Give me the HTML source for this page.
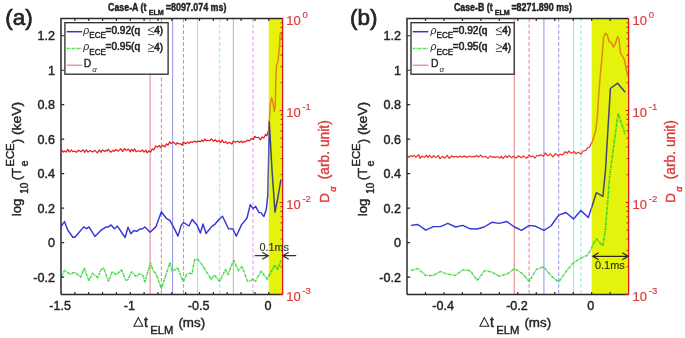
<!DOCTYPE html>
<html><head><meta charset="utf-8"><style>
html,body{margin:0;padding:0;background:#fff;width:685px;height:338px;overflow:hidden}
svg{display:block;filter:blur(0.4px)}
text{font-family:"Liberation Sans",sans-serif}
</style></head><body>
<svg width="685" height="338" viewBox="0 0 685 338">
<rect x="0" y="0" width="685" height="338" fill="#ffffff"/>
<rect x="268.75" y="18.50" width="13.85" height="275.90" fill="#e4f20c"/>
<line x1="150.10" y1="18.50" x2="150.10" y2="294.40" stroke="#e68c92" stroke-width="1.1" />
<line x1="161.40" y1="18.50" x2="161.40" y2="294.40" stroke="#e68c92" stroke-width="1.1" stroke-dasharray="3.7,2.2"/>
<line x1="172.60" y1="18.50" x2="172.60" y2="294.40" stroke="#9c9cea" stroke-width="1.1" />
<line x1="183.50" y1="18.50" x2="183.50" y2="294.40" stroke="#9c9cea" stroke-width="1.1" stroke-dasharray="3.7,2.2"/>
<line x1="197.50" y1="18.50" x2="197.50" y2="294.40" stroke="#92ecec" stroke-width="1.1" />
<line x1="219.70" y1="18.50" x2="219.70" y2="294.40" stroke="#92ecec" stroke-width="1.1" stroke-dasharray="3.7,2.2"/>
<line x1="233.40" y1="18.50" x2="233.40" y2="294.40" stroke="#e99cef" stroke-width="1.1" />
<line x1="253.00" y1="18.50" x2="253.00" y2="294.40" stroke="#e99cef" stroke-width="1.1" stroke-dasharray="3.7,2.2"/>
<clipPath id="cwa"><rect x="0" y="0" width="268.75" height="338"/></clipPath>
<clipPath id="cya"><rect x="268.75" y="0" width="400" height="338"/></clipPath>
<g clip-path="url(#cwa)">
<polyline points="61.5,150.1 63.4,152.0 64.6,150.8 66.0,152.2 67.8,149.2 69.1,152.1 71.4,150.0 72.6,151.7 74.5,151.0 76.3,152.3 78.6,150.2 80.9,151.7 83.3,149.8 84.7,152.5 86.4,149.8 88.0,152.1 90.0,150.4 92.4,152.0 94.9,150.3 97.3,152.9 99.2,150.0 101.2,152.3 102.3,149.8 104.6,151.6 105.9,150.2 107.0,151.1 108.1,149.2 110.6,152.2 113.2,150.3 114.3,151.3 115.9,149.5 118.3,151.2 120.7,148.7 122.6,151.6 124.5,148.6 126.3,150.4 128.4,149.1 130.3,151.9 131.4,149.2 133.3,151.3 134.5,148.8 136.1,151.7 138.2,150.7 140.7,151.6 142.4,149.8 144.0,152.1 145.9,150.1 147.0,152.7 149.2,150.8 150.6,152.2 152.3,148.8 153.8,149.9 155.6,146.0 157.6,147.1 159.3,145.5 160.7,147.6 162.9,145.2 164.9,146.9 166.5,143.8 168.0,145.2 169.7,141.8 171.0,143.6 173.4,142.2 175.9,144.7 177.3,142.7 179.1,144.0 180.7,143.8 182.2,145.2 183.3,141.9 185.7,143.7 187.6,142.3 189.1,143.3 190.9,141.7 192.5,142.4 194.8,140.9 196.2,142.2 198.4,141.1 200.7,141.7 201.8,140.0 203.2,141.3 205.1,139.0 206.2,140.8 207.4,140.4 209.7,140.5 211.5,139.0 213.6,141.4 215.2,139.6 217.0,141.8 218.7,140.4 220.6,142.6 222.2,140.0 223.9,142.7 225.9,141.7 227.4,143.6 229.5,142.2 231.8,144.1 233.4,141.0 235.2,142.2 237.4,141.2 239.5,142.4 241.4,141.1 242.6,142.7 243.8,141.5 245.1,142.1 247.4,140.3 249.7,140.7 251.6,138.5 253.4,139.4 254.7,136.3 256.2,137.5 258.5,137.3 260.5,139.9 262.1,136.9 263.8,138.0 265.6,134.3 266.9,135.9 267.4,133.8 268.7,130.0 269.3,122.3 270.3,103.6 271.6,97.6 272.9,102.3 274.3,111.6 275.3,105.0 275.7,85.0 276.5,65.6 278.1,60.4 279.6,44.9 280.2,33.5 281.7,32.5 282.4,40.0" fill="none" stroke="#e01b1b" stroke-width="1.2" stroke-linejoin="round" />
<polyline points="61.2,226.3 64.5,221.6 67.7,229.9 73.0,237.5 75.4,236.7 83.7,226.9 86.6,228.7 89.0,226.9 94.9,236.4 100.8,230.4 106.2,226.9 108.5,226.9 111.1,224.9 114.4,228.7 117.4,226.1 125.1,237.5 128.0,227.2 130.9,233.7 133.9,230.5 136.8,231.4 139.8,229.0 142.2,229.0 144.9,227.0 150.1,232.2 156.0,226.6 161.4,211.8 165.8,217.8 170.0,220.7 173.5,227.2 178.0,236.1 181.2,225.4 183.6,222.5 188.9,226.0 192.2,219.5 197.1,225.2 200.4,233.1 203.0,224.0 206.0,233.5 211.9,226.4 214.9,224.3 219.6,218.7 222.5,216.3 228.5,228.7 233.0,229.0 236.3,236.2 241.6,224.6 247.0,218.0 250.3,204.7 253.0,208.7 255.6,206.4 259.0,212.6 261.0,212.6 263.9,216.6 266.3,209.3 267.8,195.0 269.3,122.0 272.0,170.0 275.0,212.2 278.0,197.0 280.9,179.6" fill="none" stroke="#3636d6" stroke-width="1.45" stroke-linejoin="round" />
<polyline points="61.4,276.9 64.5,270.4 70.1,274.2 74.8,272.2 80.7,277.2 84.3,268.3 89.0,280.8 92.5,273.3 97.9,277.7 100.8,269.8 103.6,268.0 108.5,281.6 112.1,271.6 116.2,274.9 121.5,269.8 125.7,280.1 128.0,280.1 131.5,271.9 136.2,276.6 139.8,273.7 142.8,275.4 144.9,282.0 150.4,263.0 153.4,271.3 155.8,273.1 161.4,288.5 165.2,277.2 170.0,262.4 172.3,271.3 177.7,267.8 183.2,282.0 186.5,274.9 189.5,273.1 191.9,274.3 194.7,259.5 197.7,259.2 201.8,264.2 211.3,279.6 214.3,274.9 219.6,281.4 225.5,269.5 228.1,274.6 233.6,260.1 238.5,270.7 242.1,266.6 247.4,281.0 250.4,281.0 252.7,279.0 255.5,281.2 261.2,271.0 267.2,279.3 268.9,275.7 274.9,265.1 277.8,269.2 281.0,260.3" fill="none" stroke="#45d845" stroke-width="1.5" stroke-linejoin="round" stroke-dasharray="2.8,0.7,1.0,0.7"/>
</g><g clip-path="url(#cya)">
<polyline points="61.5,150.1 63.4,152.0 64.6,150.8 66.0,152.2 67.8,149.2 69.1,152.1 71.4,150.0 72.6,151.7 74.5,151.0 76.3,152.3 78.6,150.2 80.9,151.7 83.3,149.8 84.7,152.5 86.4,149.8 88.0,152.1 90.0,150.4 92.4,152.0 94.9,150.3 97.3,152.9 99.2,150.0 101.2,152.3 102.3,149.8 104.6,151.6 105.9,150.2 107.0,151.1 108.1,149.2 110.6,152.2 113.2,150.3 114.3,151.3 115.9,149.5 118.3,151.2 120.7,148.7 122.6,151.6 124.5,148.6 126.3,150.4 128.4,149.1 130.3,151.9 131.4,149.2 133.3,151.3 134.5,148.8 136.1,151.7 138.2,150.7 140.7,151.6 142.4,149.8 144.0,152.1 145.9,150.1 147.0,152.7 149.2,150.8 150.6,152.2 152.3,148.8 153.8,149.9 155.6,146.0 157.6,147.1 159.3,145.5 160.7,147.6 162.9,145.2 164.9,146.9 166.5,143.8 168.0,145.2 169.7,141.8 171.0,143.6 173.4,142.2 175.9,144.7 177.3,142.7 179.1,144.0 180.7,143.8 182.2,145.2 183.3,141.9 185.7,143.7 187.6,142.3 189.1,143.3 190.9,141.7 192.5,142.4 194.8,140.9 196.2,142.2 198.4,141.1 200.7,141.7 201.8,140.0 203.2,141.3 205.1,139.0 206.2,140.8 207.4,140.4 209.7,140.5 211.5,139.0 213.6,141.4 215.2,139.6 217.0,141.8 218.7,140.4 220.6,142.6 222.2,140.0 223.9,142.7 225.9,141.7 227.4,143.6 229.5,142.2 231.8,144.1 233.4,141.0 235.2,142.2 237.4,141.2 239.5,142.4 241.4,141.1 242.6,142.7 243.8,141.5 245.1,142.1 247.4,140.3 249.7,140.7 251.6,138.5 253.4,139.4 254.7,136.3 256.2,137.5 258.5,137.3 260.5,139.9 262.1,136.9 263.8,138.0 265.6,134.3 266.9,135.9 267.4,133.8 268.7,130.0 269.3,122.3 270.3,103.6 271.6,97.6 272.9,102.3 274.3,111.6 275.3,105.0 275.7,85.0 276.5,65.6 278.1,60.4 279.6,44.9 280.2,33.5 281.7,32.5 282.4,40.0" fill="none" stroke="#e08a12" stroke-width="1.5" stroke-linejoin="round" />
<polyline points="61.2,226.3 64.5,221.6 67.7,229.9 73.0,237.5 75.4,236.7 83.7,226.9 86.6,228.7 89.0,226.9 94.9,236.4 100.8,230.4 106.2,226.9 108.5,226.9 111.1,224.9 114.4,228.7 117.4,226.1 125.1,237.5 128.0,227.2 130.9,233.7 133.9,230.5 136.8,231.4 139.8,229.0 142.2,229.0 144.9,227.0 150.1,232.2 156.0,226.6 161.4,211.8 165.8,217.8 170.0,220.7 173.5,227.2 178.0,236.1 181.2,225.4 183.6,222.5 188.9,226.0 192.2,219.5 197.1,225.2 200.4,233.1 203.0,224.0 206.0,233.5 211.9,226.4 214.9,224.3 219.6,218.7 222.5,216.3 228.5,228.7 233.0,229.0 236.3,236.2 241.6,224.6 247.0,218.0 250.3,204.7 253.0,208.7 255.6,206.4 259.0,212.6 261.0,212.6 263.9,216.6 266.3,209.3 267.8,195.0 269.3,122.0 272.0,170.0 275.0,212.2 278.0,197.0 280.9,179.6" fill="none" stroke="#3e4876" stroke-width="1.5" stroke-linejoin="round" />
<polyline points="61.4,276.9 64.5,270.4 70.1,274.2 74.8,272.2 80.7,277.2 84.3,268.3 89.0,280.8 92.5,273.3 97.9,277.7 100.8,269.8 103.6,268.0 108.5,281.6 112.1,271.6 116.2,274.9 121.5,269.8 125.7,280.1 128.0,280.1 131.5,271.9 136.2,276.6 139.8,273.7 142.8,275.4 144.9,282.0 150.4,263.0 153.4,271.3 155.8,273.1 161.4,288.5 165.2,277.2 170.0,262.4 172.3,271.3 177.7,267.8 183.2,282.0 186.5,274.9 189.5,273.1 191.9,274.3 194.7,259.5 197.7,259.2 201.8,264.2 211.3,279.6 214.3,274.9 219.6,281.4 225.5,269.5 228.1,274.6 233.6,260.1 238.5,270.7 242.1,266.6 247.4,281.0 250.4,281.0 252.7,279.0 255.5,281.2 261.2,271.0 267.2,279.3 268.9,275.7 274.9,265.1 277.8,269.2 281.0,260.3" fill="none" stroke="#3ad425" stroke-width="1.6" stroke-linejoin="round" stroke-dasharray="2.8,0.7,1.0,0.7"/>
</g>
<path d="M282.60,18.50 L61.00,18.50 L61.00,294.40" fill="none" stroke="#2a2a2a" stroke-width="1.5"/>
<line x1="61.00" y1="294.40" x2="282.60" y2="294.40" stroke="#2a2a2a" stroke-width="1.5"/>
<line x1="282.60" y1="17.90" x2="282.60" y2="295.00" stroke="#e01b1b" stroke-width="1.3"/>
<path d="M74.85,294.40v-2.4M74.85,18.50v2.4M88.70,294.40v-2.4M88.70,18.50v2.4M102.55,294.40v-2.4M102.55,18.50v2.4M116.40,294.40v-2.4M116.40,18.50v2.4M130.25,294.40v-2.4M130.25,18.50v2.4M144.10,294.40v-2.4M144.10,18.50v2.4M157.95,294.40v-2.4M157.95,18.50v2.4M171.80,294.40v-2.4M171.80,18.50v2.4M185.65,294.40v-2.4M185.65,18.50v2.4M199.50,294.40v-2.4M199.50,18.50v2.4M213.35,294.40v-2.4M213.35,18.50v2.4M227.20,294.40v-2.4M227.20,18.50v2.4M241.05,294.40v-2.4M241.05,18.50v2.4M254.90,294.40v-2.4M254.90,18.50v2.4M268.75,294.40v-2.4M268.75,18.50v2.4M61.00,277.16h3.2M61.00,242.67h3.2M61.00,208.18h3.2M61.00,173.69h3.2M61.00,139.21h3.2M61.00,104.72h3.2M61.00,70.23h3.2M61.00,35.74h3.2" stroke="#2a2a2a" stroke-width="1.2" fill="none"/>
<path d="M282.60,110.47h-3.0M282.60,82.78h-2.0M282.60,66.59h-2.0M282.60,55.10h-2.0M282.60,46.18h-2.0M282.60,38.90h-2.0M282.60,32.75h-2.0M282.60,27.41h-2.0M282.60,22.71h-2.0M282.60,202.43h-3.0M282.60,174.75h-2.0M282.60,158.55h-2.0M282.60,147.06h-2.0M282.60,138.15h-2.0M282.60,130.87h-2.0M282.60,124.71h-2.0M282.60,119.38h-2.0M282.60,114.67h-2.0M282.60,294.40h-3.0M282.60,266.72h-2.0M282.60,250.52h-2.0M282.60,239.03h-2.0M282.60,230.12h-2.0M282.60,222.84h-2.0M282.60,216.68h-2.0M282.60,211.35h-2.0M282.60,206.64h-2.0" stroke="#e01b1b" stroke-width="1.1" fill="none"/>
<text x="55.00" y="281.66" font-size="12.6" fill="#242424" text-anchor="end" font-weight="normal" font-family='"Liberation Sans", sans-serif' stroke="#242424" stroke-width="0.42" >-0.2</text>
<text x="55.00" y="247.17" font-size="12.6" fill="#242424" text-anchor="end" font-weight="normal" font-family='"Liberation Sans", sans-serif' stroke="#242424" stroke-width="0.42" >0</text>
<text x="55.00" y="212.68" font-size="12.6" fill="#242424" text-anchor="end" font-weight="normal" font-family='"Liberation Sans", sans-serif' stroke="#242424" stroke-width="0.42" >0.2</text>
<text x="55.00" y="178.19" font-size="12.6" fill="#242424" text-anchor="end" font-weight="normal" font-family='"Liberation Sans", sans-serif' stroke="#242424" stroke-width="0.42" >0.4</text>
<text x="55.00" y="143.71" font-size="12.6" fill="#242424" text-anchor="end" font-weight="normal" font-family='"Liberation Sans", sans-serif' stroke="#242424" stroke-width="0.42" >0.6</text>
<text x="55.00" y="109.22" font-size="12.6" fill="#242424" text-anchor="end" font-weight="normal" font-family='"Liberation Sans", sans-serif' stroke="#242424" stroke-width="0.42" >0.8</text>
<text x="55.00" y="74.73" font-size="12.6" fill="#242424" text-anchor="end" font-weight="normal" font-family='"Liberation Sans", sans-serif' stroke="#242424" stroke-width="0.42" >1</text>
<text x="55.00" y="40.24" font-size="12.6" fill="#242424" text-anchor="end" font-weight="normal" font-family='"Liberation Sans", sans-serif' stroke="#242424" stroke-width="0.42" >1.2</text>
<text x="60.20" y="310.30" font-size="12.6" fill="#242424" text-anchor="middle" font-weight="normal" font-family='"Liberation Sans", sans-serif' stroke="#242424" stroke-width="0.42" >-1.5</text>
<text x="129.45" y="310.30" font-size="12.6" fill="#242424" text-anchor="middle" font-weight="normal" font-family='"Liberation Sans", sans-serif' stroke="#242424" stroke-width="0.42" >-1</text>
<text x="198.70" y="310.30" font-size="12.6" fill="#242424" text-anchor="middle" font-weight="normal" font-family='"Liberation Sans", sans-serif' stroke="#242424" stroke-width="0.42" >-0.5</text>
<text x="267.95" y="310.30" font-size="12.6" fill="#242424" text-anchor="middle" font-weight="normal" font-family='"Liberation Sans", sans-serif' stroke="#242424" stroke-width="0.42" >0</text>
<text x="286.20" y="25.30" font-size="13" fill="#de3a3a" text-anchor="start" font-weight="normal" font-family='"Liberation Sans", sans-serif' stroke="#de3a3a" stroke-width="0.2" >10</text>
<text x="302.40" y="18.10" font-size="9.6" fill="#de3a3a" text-anchor="start" font-weight="normal" font-family='"Liberation Sans", sans-serif' stroke="#de3a3a" stroke-width="0.15" >0</text>
<text x="286.20" y="117.27" font-size="13" fill="#de3a3a" text-anchor="start" font-weight="normal" font-family='"Liberation Sans", sans-serif' stroke="#de3a3a" stroke-width="0.2" >10</text>
<text x="302.40" y="110.07" font-size="9.6" fill="#de3a3a" text-anchor="start" font-weight="normal" font-family='"Liberation Sans", sans-serif' stroke="#de3a3a" stroke-width="0.15" >-1</text>
<text x="286.20" y="209.23" font-size="13" fill="#de3a3a" text-anchor="start" font-weight="normal" font-family='"Liberation Sans", sans-serif' stroke="#de3a3a" stroke-width="0.2" >10</text>
<text x="302.40" y="202.03" font-size="9.6" fill="#de3a3a" text-anchor="start" font-weight="normal" font-family='"Liberation Sans", sans-serif' stroke="#de3a3a" stroke-width="0.15" >-2</text>
<text x="286.20" y="301.20" font-size="13" fill="#de3a3a" text-anchor="start" font-weight="normal" font-family='"Liberation Sans", sans-serif' stroke="#de3a3a" stroke-width="0.2" >10</text>
<text x="302.40" y="294.00" font-size="9.6" fill="#de3a3a" text-anchor="start" font-weight="normal" font-family='"Liberation Sans", sans-serif' stroke="#de3a3a" stroke-width="0.15" >-3</text>
<rect x="591.67" y="18.50" width="36.93" height="275.90" fill="#e4f20c"/>
<line x1="514.30" y1="18.50" x2="514.30" y2="294.40" stroke="#e68c92" stroke-width="1.1" />
<line x1="529.10" y1="18.50" x2="529.10" y2="294.40" stroke="#e68c92" stroke-width="1.1" stroke-dasharray="3.7,2.2"/>
<line x1="543.90" y1="18.50" x2="543.90" y2="294.40" stroke="#9c9cea" stroke-width="1.1" />
<line x1="558.70" y1="18.50" x2="558.70" y2="294.40" stroke="#9c9cea" stroke-width="1.1" stroke-dasharray="3.7,2.2"/>
<line x1="573.60" y1="18.50" x2="573.60" y2="294.40" stroke="#92ecec" stroke-width="1.1" />
<line x1="580.90" y1="18.50" x2="580.90" y2="294.40" stroke="#92ecec" stroke-width="1.1" stroke-dasharray="3.7,2.2"/>
<clipPath id="cwb"><rect x="0" y="0" width="591.67" height="338"/></clipPath>
<clipPath id="cyb"><rect x="591.67" y="0" width="400" height="338"/></clipPath>
<g clip-path="url(#cwb)">
<polyline points="407.5,155.6 408.9,157.4 410.8,155.6 412.7,156.6 414.2,155.4 415.8,157.2 418.6,154.6 420.0,158.3 421.7,156.1 424.4,157.3 426.6,155.2 428.0,157.4 429.6,155.3 431.8,157.8 433.6,155.5 435.8,157.6 438.5,155.5 440.0,158.8 442.5,156.3 444.9,158.2 447.1,155.3 449.4,158.4 451.4,155.9 453.8,157.1 456.2,156.3 458.0,157.5 460.3,156.1 461.8,157.1 464.4,156.1 467.1,157.4 469.1,156.0 471.8,156.8 473.8,156.4 475.3,156.6 476.9,155.5 478.6,157.1 480.6,155.1 483.0,157.3 485.3,156.3 487.9,158.4 490.5,155.9 492.8,157.4 494.2,156.5 495.5,157.6 497.0,156.4 499.8,158.1 501.3,156.1 502.7,158.5 505.7,155.8 507.1,157.6 508.8,155.6 511.7,157.8 513.2,156.2 516.1,158.1 518.5,155.8 521.1,157.7 523.6,155.9 526.5,158.4 529.2,155.1 531.3,156.9 532.6,155.9 535.0,158.0 537.0,155.3 538.9,156.0 540.5,154.6 543.3,156.2 545.4,153.0 547.8,155.9 550.3,153.9 552.9,156.8 555.5,153.6 558.4,156.0 559.9,154.1 562.5,155.0 565.2,151.7 567.4,153.3 568.6,151.1 571.5,153.2 574.2,151.6 576.0,153.8 578.2,152.2 581.0,154.1 583.0,151.0 585.8,150.4 588.0,147.7 589.5,147.1 592.1,141.5 592.2,142.5 594.2,135.0 595.4,132.4 597.1,119.4 598.7,95.0 600.6,71.0 601.8,60.0 603.6,37.8 605.4,33.3 607.2,34.8 609.2,41.9 611.1,42.5 613.7,47.0 615.4,43.7 617.5,36.6 619.0,38.9 620.5,53.1 622.5,56.1 624.6,60.3 626.0,68.3 628.0,76.3" fill="none" stroke="#e83030" stroke-width="1.2" stroke-linejoin="round" />
<polyline points="410.9,225.4 417.8,224.5 425.7,230.2 433.4,226.6 440.5,226.6 447.8,223.4 455.7,227.0 462.8,225.4 470.1,228.8 477.1,229.0 484.2,227.0 492.2,222.2 499.3,223.4 506.9,221.5 514.4,227.0 521.5,230.4 529.2,225.4 535.7,226.3 543.9,230.3 551.0,226.0 558.7,215.1 566.0,212.5 573.5,218.9 580.9,210.6 588.3,217.5 592.0,206.5 596.3,192.7 602.9,196.3 605.5,170.0 610.4,88.5 617.6,83.2 625.2,92.2" fill="none" stroke="#3636d6" stroke-width="1.45" stroke-linejoin="round" />
<polyline points="410.9,270.4 417.8,268.6 425.7,275.4 433.4,275.4 440.5,271.5 447.8,274.3 455.7,275.4 462.8,269.9 469.9,270.4 477.3,280.5 484.8,270.4 491.9,272.2 499.6,276.3 507.6,273.7 514.4,268.7 521.8,273.1 529.2,281.4 536.3,269.5 543.5,266.8 551.6,276.3 558.7,282.0 566.4,271.0 574.0,262.1 581.2,258.2 587.4,255.2 590.6,250.1 593.0,244.2 596.5,238.9 602.8,246.0 605.4,230.0 609.8,175.0 618.1,113.3 625.2,134.2" fill="none" stroke="#45d845" stroke-width="1.5" stroke-linejoin="round" stroke-dasharray="2.8,0.7,1.0,0.7"/>
</g><g clip-path="url(#cyb)">
<polyline points="407.5,155.6 408.9,157.4 410.8,155.6 412.7,156.6 414.2,155.4 415.8,157.2 418.6,154.6 420.0,158.3 421.7,156.1 424.4,157.3 426.6,155.2 428.0,157.4 429.6,155.3 431.8,157.8 433.6,155.5 435.8,157.6 438.5,155.5 440.0,158.8 442.5,156.3 444.9,158.2 447.1,155.3 449.4,158.4 451.4,155.9 453.8,157.1 456.2,156.3 458.0,157.5 460.3,156.1 461.8,157.1 464.4,156.1 467.1,157.4 469.1,156.0 471.8,156.8 473.8,156.4 475.3,156.6 476.9,155.5 478.6,157.1 480.6,155.1 483.0,157.3 485.3,156.3 487.9,158.4 490.5,155.9 492.8,157.4 494.2,156.5 495.5,157.6 497.0,156.4 499.8,158.1 501.3,156.1 502.7,158.5 505.7,155.8 507.1,157.6 508.8,155.6 511.7,157.8 513.2,156.2 516.1,158.1 518.5,155.8 521.1,157.7 523.6,155.9 526.5,158.4 529.2,155.1 531.3,156.9 532.6,155.9 535.0,158.0 537.0,155.3 538.9,156.0 540.5,154.6 543.3,156.2 545.4,153.0 547.8,155.9 550.3,153.9 552.9,156.8 555.5,153.6 558.4,156.0 559.9,154.1 562.5,155.0 565.2,151.7 567.4,153.3 568.6,151.1 571.5,153.2 574.2,151.6 576.0,153.8 578.2,152.2 581.0,154.1 583.0,151.0 585.8,150.4 588.0,147.7 589.5,147.1 592.1,141.5 592.2,142.5 594.2,135.0 595.4,132.4 597.1,119.4 598.7,95.0 600.6,71.0 601.8,60.0 603.6,37.8 605.4,33.3 607.2,34.8 609.2,41.9 611.1,42.5 613.7,47.0 615.4,43.7 617.5,36.6 619.0,38.9 620.5,53.1 622.5,56.1 624.6,60.3 626.0,68.3 628.0,76.3" fill="none" stroke="#e08a12" stroke-width="1.5" stroke-linejoin="round" />
<polyline points="410.9,225.4 417.8,224.5 425.7,230.2 433.4,226.6 440.5,226.6 447.8,223.4 455.7,227.0 462.8,225.4 470.1,228.8 477.1,229.0 484.2,227.0 492.2,222.2 499.3,223.4 506.9,221.5 514.4,227.0 521.5,230.4 529.2,225.4 535.7,226.3 543.9,230.3 551.0,226.0 558.7,215.1 566.0,212.5 573.5,218.9 580.9,210.6 588.3,217.5 592.0,206.5 596.3,192.7 602.9,196.3 605.5,170.0 610.4,88.5 617.6,83.2 625.2,92.2" fill="none" stroke="#3e4876" stroke-width="1.5" stroke-linejoin="round" />
<polyline points="410.9,270.4 417.8,268.6 425.7,275.4 433.4,275.4 440.5,271.5 447.8,274.3 455.7,275.4 462.8,269.9 469.9,270.4 477.3,280.5 484.8,270.4 491.9,272.2 499.6,276.3 507.6,273.7 514.4,268.7 521.8,273.1 529.2,281.4 536.3,269.5 543.5,266.8 551.6,276.3 558.7,282.0 566.4,271.0 574.0,262.1 581.2,258.2 587.4,255.2 590.6,250.1 593.0,244.2 596.5,238.9 602.8,246.0 605.4,230.0 609.8,175.0 618.1,113.3 625.2,134.2" fill="none" stroke="#3ad425" stroke-width="1.6" stroke-linejoin="round" stroke-dasharray="2.8,0.7,1.0,0.7"/>
</g>
<path d="M628.60,18.50 L407.00,18.50 L407.00,294.40" fill="none" stroke="#2a2a2a" stroke-width="1.5"/>
<line x1="407.00" y1="294.40" x2="628.60" y2="294.40" stroke="#2a2a2a" stroke-width="1.5"/>
<line x1="628.60" y1="17.90" x2="628.60" y2="295.00" stroke="#e01b1b" stroke-width="1.3"/>
<path d="M425.47,294.40v-2.4M425.47,18.50v2.4M443.93,294.40v-2.4M443.93,18.50v2.4M462.40,294.40v-2.4M462.40,18.50v2.4M480.87,294.40v-2.4M480.87,18.50v2.4M499.33,294.40v-2.4M499.33,18.50v2.4M517.80,294.40v-2.4M517.80,18.50v2.4M536.27,294.40v-2.4M536.27,18.50v2.4M554.73,294.40v-2.4M554.73,18.50v2.4M573.20,294.40v-2.4M573.20,18.50v2.4M591.67,294.40v-2.4M591.67,18.50v2.4M610.13,294.40v-2.4M610.13,18.50v2.4M407.00,277.16h3.2M407.00,242.67h3.2M407.00,208.18h3.2M407.00,173.69h3.2M407.00,139.21h3.2M407.00,104.72h3.2M407.00,70.23h3.2M407.00,35.74h3.2" stroke="#2a2a2a" stroke-width="1.2" fill="none"/>
<path d="M628.60,110.47h-3.0M628.60,82.78h-2.0M628.60,66.59h-2.0M628.60,55.10h-2.0M628.60,46.18h-2.0M628.60,38.90h-2.0M628.60,32.75h-2.0M628.60,27.41h-2.0M628.60,22.71h-2.0M628.60,202.43h-3.0M628.60,174.75h-2.0M628.60,158.55h-2.0M628.60,147.06h-2.0M628.60,138.15h-2.0M628.60,130.87h-2.0M628.60,124.71h-2.0M628.60,119.38h-2.0M628.60,114.67h-2.0M628.60,294.40h-3.0M628.60,266.72h-2.0M628.60,250.52h-2.0M628.60,239.03h-2.0M628.60,230.12h-2.0M628.60,222.84h-2.0M628.60,216.68h-2.0M628.60,211.35h-2.0M628.60,206.64h-2.0" stroke="#e01b1b" stroke-width="1.1" fill="none"/>
<text x="401.00" y="281.66" font-size="12.6" fill="#242424" text-anchor="end" font-weight="normal" font-family='"Liberation Sans", sans-serif' stroke="#242424" stroke-width="0.42" >-0.2</text>
<text x="401.00" y="247.17" font-size="12.6" fill="#242424" text-anchor="end" font-weight="normal" font-family='"Liberation Sans", sans-serif' stroke="#242424" stroke-width="0.42" >0</text>
<text x="401.00" y="212.68" font-size="12.6" fill="#242424" text-anchor="end" font-weight="normal" font-family='"Liberation Sans", sans-serif' stroke="#242424" stroke-width="0.42" >0.2</text>
<text x="401.00" y="178.19" font-size="12.6" fill="#242424" text-anchor="end" font-weight="normal" font-family='"Liberation Sans", sans-serif' stroke="#242424" stroke-width="0.42" >0.4</text>
<text x="401.00" y="143.71" font-size="12.6" fill="#242424" text-anchor="end" font-weight="normal" font-family='"Liberation Sans", sans-serif' stroke="#242424" stroke-width="0.42" >0.6</text>
<text x="401.00" y="109.22" font-size="12.6" fill="#242424" text-anchor="end" font-weight="normal" font-family='"Liberation Sans", sans-serif' stroke="#242424" stroke-width="0.42" >0.8</text>
<text x="401.00" y="74.73" font-size="12.6" fill="#242424" text-anchor="end" font-weight="normal" font-family='"Liberation Sans", sans-serif' stroke="#242424" stroke-width="0.42" >1</text>
<text x="401.00" y="40.24" font-size="12.6" fill="#242424" text-anchor="end" font-weight="normal" font-family='"Liberation Sans", sans-serif' stroke="#242424" stroke-width="0.42" >1.2</text>
<text x="443.13" y="310.30" font-size="12.6" fill="#242424" text-anchor="middle" font-weight="normal" font-family='"Liberation Sans", sans-serif' stroke="#242424" stroke-width="0.42" >-0.4</text>
<text x="517.00" y="310.30" font-size="12.6" fill="#242424" text-anchor="middle" font-weight="normal" font-family='"Liberation Sans", sans-serif' stroke="#242424" stroke-width="0.42" >-0.2</text>
<text x="590.87" y="310.30" font-size="12.6" fill="#242424" text-anchor="middle" font-weight="normal" font-family='"Liberation Sans", sans-serif' stroke="#242424" stroke-width="0.42" >0</text>
<text x="632.60" y="25.30" font-size="13" fill="#de3a3a" text-anchor="start" font-weight="normal" font-family='"Liberation Sans", sans-serif' stroke="#de3a3a" stroke-width="0.2" >10</text>
<text x="648.80" y="18.10" font-size="9.6" fill="#de3a3a" text-anchor="start" font-weight="normal" font-family='"Liberation Sans", sans-serif' stroke="#de3a3a" stroke-width="0.15" >0</text>
<text x="632.60" y="117.27" font-size="13" fill="#de3a3a" text-anchor="start" font-weight="normal" font-family='"Liberation Sans", sans-serif' stroke="#de3a3a" stroke-width="0.2" >10</text>
<text x="648.80" y="110.07" font-size="9.6" fill="#de3a3a" text-anchor="start" font-weight="normal" font-family='"Liberation Sans", sans-serif' stroke="#de3a3a" stroke-width="0.15" >-1</text>
<text x="632.60" y="209.23" font-size="13" fill="#de3a3a" text-anchor="start" font-weight="normal" font-family='"Liberation Sans", sans-serif' stroke="#de3a3a" stroke-width="0.2" >10</text>
<text x="648.80" y="202.03" font-size="9.6" fill="#de3a3a" text-anchor="start" font-weight="normal" font-family='"Liberation Sans", sans-serif' stroke="#de3a3a" stroke-width="0.15" >-2</text>
<text x="632.60" y="301.20" font-size="13" fill="#de3a3a" text-anchor="start" font-weight="normal" font-family='"Liberation Sans", sans-serif' stroke="#de3a3a" stroke-width="0.2" >10</text>
<text x="648.80" y="294.00" font-size="9.6" fill="#de3a3a" text-anchor="start" font-weight="normal" font-family='"Liberation Sans", sans-serif' stroke="#de3a3a" stroke-width="0.15" >-3</text>
<text x="5.20" y="25.40" font-size="22.5" fill="#242424" text-anchor="start" font-weight="normal" font-family='"Liberation Sans", sans-serif' stroke="#242424" stroke-width="0.7" >(a)</text>
<path d="M133.90,326.3L138.30,317.6L142.80,326.3Z" fill="none" stroke="#242424" stroke-width="1.05" stroke-linejoin="miter"/>
<text x="143.90" y="326.80" font-size="13.8" fill="#242424" text-anchor="start" font-weight="normal" font-family='"Liberation Sans", sans-serif' stroke="#242424" stroke-width="0.42" >t</text>
<text x="150.30" y="333.70" font-size="11.3" fill="#242424" text-anchor="start" font-weight="normal" font-family='"Liberation Sans", sans-serif' stroke="#242424" stroke-width="0.42" >ELM</text>
<text x="178.40" y="326.80" font-size="13.4" fill="#242424" text-anchor="start" font-weight="normal" font-family='"Liberation Sans", sans-serif' stroke="#242424" stroke-width="0.42" >(ms)</text>
<g transform="translate(20.70,216.3) rotate(-90)">
<text x="0.00" y="0.00" font-size="13.2" fill="#242424" text-anchor="start" font-weight="normal" font-family='"Liberation Sans", sans-serif' stroke="#242424" stroke-width="0.42" >log</text>
<text x="22.60" y="7.10" font-size="10" fill="#242424" text-anchor="start" font-weight="normal" font-family='"Liberation Sans", sans-serif' stroke="#242424" stroke-width="0.42" >10</text>
<text x="36.00" y="0.00" font-size="13.2" fill="#242424" text-anchor="start" font-weight="normal" font-family='"Liberation Sans", sans-serif' stroke="#242424" stroke-width="0.42" >(T</text>
<text x="49.80" y="7.00" font-size="11" fill="#242424" text-anchor="start" font-weight="normal" font-family='"Liberation Sans", sans-serif' stroke="#242424" stroke-width="0.42" >e</text>
<text x="49.60" y="-7.10" font-size="10.2" fill="#242424" text-anchor="start" font-weight="normal" font-family='"Liberation Sans", sans-serif' stroke="#242424" stroke-width="0.42" textLength="23.4" lengthAdjust="spacingAndGlyphs">ECE</text>
<text x="73.00" y="0.00" font-size="13.2" fill="#242424" text-anchor="start" font-weight="normal" font-family='"Liberation Sans", sans-serif' stroke="#242424" stroke-width="0.42" >)</text>
<text x="81.20" y="0.00" font-size="13.2" fill="#242424" text-anchor="start" font-weight="normal" font-family='"Liberation Sans", sans-serif' stroke="#242424" stroke-width="0.42" textLength="33.4" lengthAdjust="spacingAndGlyphs">(keV)</text>
</g>
<g transform="translate(328.70,202.8) rotate(-90)" fill="#de3a3a">
<text x="0.00" y="0.00" font-size="13.5" fill="#de3a3a" text-anchor="start" font-weight="normal" font-family='"Liberation Sans", sans-serif' stroke="#de3a3a" stroke-width="0.42" >D</text>
<text x="11.00" y="7.20" font-size="9" fill="#de3a3a" text-anchor="start" font-weight="normal" font-family='"Liberation Serif", serif' stroke="#de3a3a" stroke-width="0.42" font-style="italic">&#945;</text>
<text x="23.50" y="0.00" font-size="13.8" fill="#de3a3a" text-anchor="start" font-weight="normal" font-family='"Liberation Sans", sans-serif' stroke="#de3a3a" stroke-width="0.42" >(arb. unit)</text>
</g>
<rect x="64.90" y="22.7" width="103.2" height="51.5" fill="#ffffff" stroke="#2a2a2a" stroke-width="1.3"/>
<line x1="66.70" y1="31.70" x2="82.20" y2="31.70" stroke="#3434d0" stroke-width="1.5" />
<text x="83.20" y="33.50" font-size="10.5" fill="#242424" text-anchor="start" font-weight="normal" font-family='"Liberation Serif", serif' font-style="italic">&#961;</text>
<text x="89.30" y="37.90" font-size="8.4" fill="#242424" text-anchor="start" font-weight="normal" font-family='"Liberation Sans", sans-serif' stroke="#242424" stroke-width="0.42" textLength="16.6" lengthAdjust="spacingAndGlyphs">ECE</text>
<text x="105.50" y="33.50" font-size="10" fill="#242424" text-anchor="start" font-weight="normal" font-family='"Liberation Sans", sans-serif' stroke="#242424" stroke-width="0.55" textLength="34.6" lengthAdjust="spacingAndGlyphs">=0.92(q</text>
<path d="M154.10,27.00L148.00,29.80L154.10,32.60M148.00,34.60H154.10" fill="none" stroke="#242424" stroke-width="0.8"/>
<text x="154.30" y="33.90" font-size="10" fill="#242424" text-anchor="start" font-weight="normal" font-family='"Liberation Sans", sans-serif' stroke="#242424" stroke-width="0.55" >4)</text>
<line x1="66.70" y1="48.60" x2="82.20" y2="48.60" stroke="#4cd84c" stroke-width="1.5" stroke-dasharray="2.6,0.8,1.0,0.8"/>
<text x="83.20" y="50.40" font-size="10.5" fill="#242424" text-anchor="start" font-weight="normal" font-family='"Liberation Serif", serif' font-style="italic">&#961;</text>
<text x="89.30" y="54.80" font-size="8.4" fill="#242424" text-anchor="start" font-weight="normal" font-family='"Liberation Sans", sans-serif' stroke="#242424" stroke-width="0.42" textLength="16.6" lengthAdjust="spacingAndGlyphs">ECE</text>
<text x="105.50" y="50.40" font-size="10" fill="#242424" text-anchor="start" font-weight="normal" font-family='"Liberation Sans", sans-serif' stroke="#242424" stroke-width="0.55" textLength="34.6" lengthAdjust="spacingAndGlyphs">=0.95(q</text>
<path d="M148.00,43.90L154.10,46.70L148.00,49.50M148.00,51.50H154.10" fill="none" stroke="#242424" stroke-width="0.8"/>
<text x="154.30" y="50.80" font-size="10" fill="#242424" text-anchor="start" font-weight="normal" font-family='"Liberation Sans", sans-serif' stroke="#242424" stroke-width="0.55" >4)</text>
<line x1="66.70" y1="65.20" x2="82.20" y2="65.20" stroke="#e88a8a" stroke-width="1.3"/>
<text x="83.70" y="67.30" font-size="10.4" fill="#242424" text-anchor="start" font-weight="normal" font-family='"Liberation Sans", sans-serif' stroke="#242424" stroke-width="0.35" >D</text>
<text x="92.20" y="71.90" font-size="8" fill="#242424" text-anchor="start" font-weight="normal" font-family='"Liberation Serif", serif' font-style="italic">&#945;</text>
<text x="350.10" y="25.40" font-size="22.5" fill="#242424" text-anchor="start" font-weight="normal" font-family='"Liberation Sans", sans-serif' stroke="#242424" stroke-width="0.7" >(b)</text>
<path d="M479.90,326.3L484.30,317.6L488.80,326.3Z" fill="none" stroke="#242424" stroke-width="1.05" stroke-linejoin="miter"/>
<text x="489.90" y="326.80" font-size="13.8" fill="#242424" text-anchor="start" font-weight="normal" font-family='"Liberation Sans", sans-serif' stroke="#242424" stroke-width="0.42" >t</text>
<text x="496.30" y="333.70" font-size="11.3" fill="#242424" text-anchor="start" font-weight="normal" font-family='"Liberation Sans", sans-serif' stroke="#242424" stroke-width="0.42" >ELM</text>
<text x="524.40" y="326.80" font-size="13.4" fill="#242424" text-anchor="start" font-weight="normal" font-family='"Liberation Sans", sans-serif' stroke="#242424" stroke-width="0.42" >(ms)</text>
<g transform="translate(366.70,216.3) rotate(-90)">
<text x="0.00" y="0.00" font-size="13.2" fill="#242424" text-anchor="start" font-weight="normal" font-family='"Liberation Sans", sans-serif' stroke="#242424" stroke-width="0.42" >log</text>
<text x="22.60" y="7.10" font-size="10" fill="#242424" text-anchor="start" font-weight="normal" font-family='"Liberation Sans", sans-serif' stroke="#242424" stroke-width="0.42" >10</text>
<text x="36.00" y="0.00" font-size="13.2" fill="#242424" text-anchor="start" font-weight="normal" font-family='"Liberation Sans", sans-serif' stroke="#242424" stroke-width="0.42" >(T</text>
<text x="49.80" y="7.00" font-size="11" fill="#242424" text-anchor="start" font-weight="normal" font-family='"Liberation Sans", sans-serif' stroke="#242424" stroke-width="0.42" >e</text>
<text x="49.60" y="-7.10" font-size="10.2" fill="#242424" text-anchor="start" font-weight="normal" font-family='"Liberation Sans", sans-serif' stroke="#242424" stroke-width="0.42" textLength="23.4" lengthAdjust="spacingAndGlyphs">ECE</text>
<text x="73.00" y="0.00" font-size="13.2" fill="#242424" text-anchor="start" font-weight="normal" font-family='"Liberation Sans", sans-serif' stroke="#242424" stroke-width="0.42" >)</text>
<text x="81.20" y="0.00" font-size="13.2" fill="#242424" text-anchor="start" font-weight="normal" font-family='"Liberation Sans", sans-serif' stroke="#242424" stroke-width="0.42" textLength="33.4" lengthAdjust="spacingAndGlyphs">(keV)</text>
</g>
<g transform="translate(674.70,202.8) rotate(-90)" fill="#de3a3a">
<text x="0.00" y="0.00" font-size="13.5" fill="#de3a3a" text-anchor="start" font-weight="normal" font-family='"Liberation Sans", sans-serif' stroke="#de3a3a" stroke-width="0.42" >D</text>
<text x="11.00" y="7.20" font-size="9" fill="#de3a3a" text-anchor="start" font-weight="normal" font-family='"Liberation Serif", serif' stroke="#de3a3a" stroke-width="0.42" font-style="italic">&#945;</text>
<text x="23.50" y="0.00" font-size="13.8" fill="#de3a3a" text-anchor="start" font-weight="normal" font-family='"Liberation Sans", sans-serif' stroke="#de3a3a" stroke-width="0.42" >(arb. unit)</text>
</g>
<rect x="411.00" y="22.7" width="103.2" height="51.5" fill="#ffffff" stroke="#2a2a2a" stroke-width="1.3"/>
<line x1="412.80" y1="31.70" x2="428.30" y2="31.70" stroke="#3434d0" stroke-width="1.5" />
<text x="430.50" y="33.50" font-size="10.5" fill="#242424" text-anchor="start" font-weight="normal" font-family='"Liberation Serif", serif' font-style="italic">&#961;</text>
<text x="436.60" y="37.90" font-size="8.4" fill="#242424" text-anchor="start" font-weight="normal" font-family='"Liberation Sans", sans-serif' stroke="#242424" stroke-width="0.42" textLength="16.6" lengthAdjust="spacingAndGlyphs">ECE</text>
<text x="452.80" y="33.50" font-size="10" fill="#242424" text-anchor="start" font-weight="normal" font-family='"Liberation Sans", sans-serif' stroke="#242424" stroke-width="0.55" textLength="34.6" lengthAdjust="spacingAndGlyphs">=0.92(q</text>
<path d="M502.00,27.00L495.90,29.80L502.00,32.60M495.90,34.60H502.00" fill="none" stroke="#242424" stroke-width="0.8"/>
<text x="502.20" y="33.90" font-size="10" fill="#242424" text-anchor="start" font-weight="normal" font-family='"Liberation Sans", sans-serif' stroke="#242424" stroke-width="0.55" >4)</text>
<line x1="412.80" y1="48.60" x2="428.30" y2="48.60" stroke="#4cd84c" stroke-width="1.5" stroke-dasharray="2.6,0.8,1.0,0.8"/>
<text x="430.50" y="50.40" font-size="10.5" fill="#242424" text-anchor="start" font-weight="normal" font-family='"Liberation Serif", serif' font-style="italic">&#961;</text>
<text x="436.60" y="54.80" font-size="8.4" fill="#242424" text-anchor="start" font-weight="normal" font-family='"Liberation Sans", sans-serif' stroke="#242424" stroke-width="0.42" textLength="16.6" lengthAdjust="spacingAndGlyphs">ECE</text>
<text x="452.80" y="50.40" font-size="10" fill="#242424" text-anchor="start" font-weight="normal" font-family='"Liberation Sans", sans-serif' stroke="#242424" stroke-width="0.55" textLength="34.6" lengthAdjust="spacingAndGlyphs">=0.95(q</text>
<path d="M495.90,43.90L502.00,46.70L495.90,49.50M495.90,51.50H502.00" fill="none" stroke="#242424" stroke-width="0.8"/>
<text x="502.20" y="50.80" font-size="10" fill="#242424" text-anchor="start" font-weight="normal" font-family='"Liberation Sans", sans-serif' stroke="#242424" stroke-width="0.55" >4)</text>
<line x1="412.80" y1="65.20" x2="428.30" y2="65.20" stroke="#e88a8a" stroke-width="1.3"/>
<text x="431.00" y="67.30" font-size="10.4" fill="#242424" text-anchor="start" font-weight="normal" font-family='"Liberation Sans", sans-serif' stroke="#242424" stroke-width="0.35" >D</text>
<text x="439.50" y="71.90" font-size="8" fill="#242424" text-anchor="start" font-weight="normal" font-family='"Liberation Serif", serif' font-style="italic">&#945;</text>
<text x="108.10" y="10.90" font-size="10.2" fill="#242424" text-anchor="start" font-weight="bold" font-family='"Liberation Sans", sans-serif' stroke="#242424" stroke-width="0.42" textLength="38.3" lengthAdjust="spacingAndGlyphs">Case-A (t</text>
<text x="148.80" y="14.50" font-size="7.4" fill="#242424" text-anchor="start" font-weight="bold" font-family='"Liberation Sans", sans-serif' stroke="#242424" stroke-width="0.42" textLength="15.0" lengthAdjust="spacingAndGlyphs">ELM</text>
<text x="165.80" y="10.90" font-size="10.2" fill="#242424" text-anchor="start" font-weight="bold" font-family='"Liberation Sans", sans-serif' stroke="#242424" stroke-width="0.42" textLength="60.6" lengthAdjust="spacingAndGlyphs">=8097.074 ms)</text>
<text x="453.90" y="10.90" font-size="10.2" fill="#242424" text-anchor="start" font-weight="bold" font-family='"Liberation Sans", sans-serif' stroke="#242424" stroke-width="0.42" textLength="38.8" lengthAdjust="spacingAndGlyphs">Case-B (t</text>
<text x="494.70" y="14.50" font-size="7.4" fill="#242424" text-anchor="start" font-weight="bold" font-family='"Liberation Sans", sans-serif' stroke="#242424" stroke-width="0.42" textLength="15.0" lengthAdjust="spacingAndGlyphs">ELM</text>
<text x="511.40" y="10.90" font-size="10.2" fill="#242424" text-anchor="start" font-weight="bold" font-family='"Liberation Sans", sans-serif' stroke="#242424" stroke-width="0.42" textLength="60.6" lengthAdjust="spacingAndGlyphs">=8271.890 ms)</text>
<path d="M254.8,255.7H268.2M262.30,252.20L268.20,255.70L262.30,259.20 M296.2,255.7H282.8M288.70,252.20L282.80,255.70L288.70,259.20" fill="none" stroke="#333333" stroke-width="1.3"/>
<text x="259.40" y="251.00" font-size="10.2" fill="#333333" text-anchor="start" font-weight="normal" font-family='"Liberation Sans", sans-serif' stroke="#333333" stroke-width="0.15" textLength="29.6" lengthAdjust="spacingAndGlyphs">0.1ms</text>
<path d="M592.8,256.3H628.2M598.70,252.80L592.80,256.30L598.70,259.80M622.30,252.80L628.20,256.30L622.30,259.80" fill="none" stroke="#2a2a10" stroke-width="1.3"/>
<text x="595.00" y="268.60" font-size="10.2" fill="#2a2a10" text-anchor="start" font-weight="normal" font-family='"Liberation Sans", sans-serif' stroke="#2a2a10" stroke-width="0.1" textLength="29.8" lengthAdjust="spacingAndGlyphs">0.1ms</text>
</svg>
</body></html>
